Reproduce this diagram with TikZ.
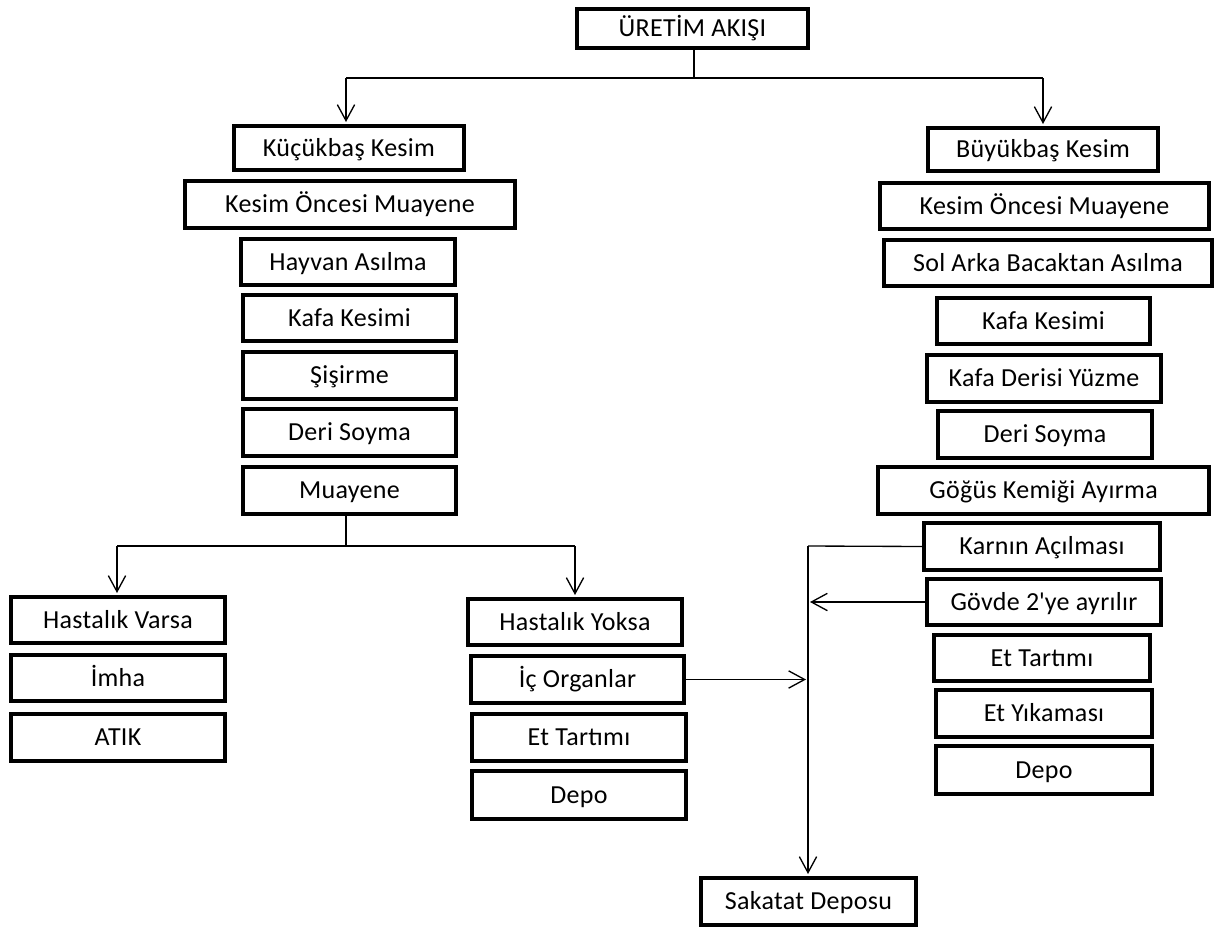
\documentclass[tikz,border=0pt]{standalone}
\usepackage{fontspec}
\setmainfont{Carlito}[LetterSpace=1.2]
\usetikzlibrary{arrows.meta}
\tikzset{
  box/.style={draw=black, line width=3pt, fill=white, inner sep=0pt, align=center,
    text height=17pt, text depth=4.44pt,
    font=\fontsize{19.5pt}{22pt}\selectfont},
  conn/.style={draw=black, line width=1pt},
  arr/.style={conn, -{Straight Barb[length=12pt,width=13pt]}, shorten >=1.5pt}
}
\newcommand\mkbox[6]{%
  \node[box, minimum width={(#4-#2-4)*0.75pt}, minimum height={(#5-#3-4)*0.75pt}]
    (#1) at ({(#2+#4)/2},{(#3+#5)/2}) {#6};}
\begin{document}
\begin{tikzpicture}[x=0.75pt,y=-0.75pt]
\useasboundingbox (0,0) rectangle (1217,928);
\mkbox{top}{575}{7}{810}{50}{ÜRETİM AKIŞI}
\mkbox{kL}{232}{124}{466}{172}{Küçükbaş Kesim}
\mkbox{kR}{926}{126}{1160}{173}{Büyükbaş Kesim}
\mkbox{koL}{183}{179}{517}{230}{Kesim Öncesi Muayene}
\mkbox{koR}{878}{181}{1211}{231}{Kesim Öncesi Muayene}
\mkbox{hay}{239}{237}{457}{287}{Hayvan Asılma}
\mkbox{sol}{882}{238}{1214}{288}{Sol Arka Bacaktan Asılma}
\mkbox{kafaL}{241}{293}{458}{343}{Kafa Kesimi}
\mkbox{kafaR}{935}{296}{1152}{346}{Kafa Kesimi}
\mkbox{sis}{241}{350}{458}{401}{Şişirme}
\mkbox{kdy}{925}{353}{1163}{404}{Kafa Derisi Yüzme}
\mkbox{dsL}{241}{407}{458}{458}{Deri Soyma}
\mkbox{dsR}{936}{409}{1154}{460}{Deri Soyma}
\mkbox{mua}{241}{465}{458}{516}{Muayene}
\mkbox{gog}{876}{465}{1211}{516}{Göğüs Kemiği Ayırma}
\mkbox{karn}{922}{521}{1162}{572}{Karnın Açılması}
\mkbox{govde}{925}{577}{1163}{627}{Gövde 2\textquotesingle ye ayrılır}
\mkbox{hv}{9}{595}{227}{645}{Hastalık Varsa}
\mkbox{hy}{466}{597}{684}{647}{Hastalık Yoksa}
\mkbox{imha}{9}{653}{227}{703}{İmha}
\mkbox{atik}{9}{712}{227}{763}{ATIK}
\mkbox{ic}{469}{654}{686}{705}{İç Organlar}
\mkbox{etL}{470}{712}{688}{763}{Et Tartımı}
\mkbox{depoL}{470}{769}{688}{821}{Depo}
\mkbox{etR}{932}{633}{1152}{683}{Et Tartımı}
\mkbox{yik}{934}{688}{1154}{739}{Et Yıkaması}
\mkbox{depoR}{934}{744}{1154}{796}{Depo}
\mkbox{sak}{699}{876}{918}{927}{Sakatat Deposu}
% connectors
\coordinate (j1) at (694,78);
\coordinate (j1l) at (346,78);
\coordinate (j1r) at (1043,78);
\draw[conn] (top.south -| j1) -- (j1);
\draw[conn] (j1l) -- (j1r);
\draw[arr] (j1l) -- (j1l |- kL.north);
\draw[arr] (j1r) -- (j1r |- kR.north);
\coordinate (j2) at (346,546);
\coordinate (j2l) at (117,546);
\coordinate (j2r) at (575,546);
\draw[conn] (mua.south -| j2) -- (j2);
\draw[conn] (j2l) -- (j2r);
\draw[arr] (j2l) -- (j2l |- hv.north);
\draw[arr] (j2r) -- (j2r |- hy.north);
\coordinate (v1) at (808,546);
\draw[conn] (karn.west) -- (v1);
\draw[arr] (v1) -- (v1 |- sak.north);
\draw[arr] (govde.west) -- (govde.west -| v1);
\draw[arr] (ic.east) -- (ic.east -| v1);
\end{tikzpicture}
\end{document}
